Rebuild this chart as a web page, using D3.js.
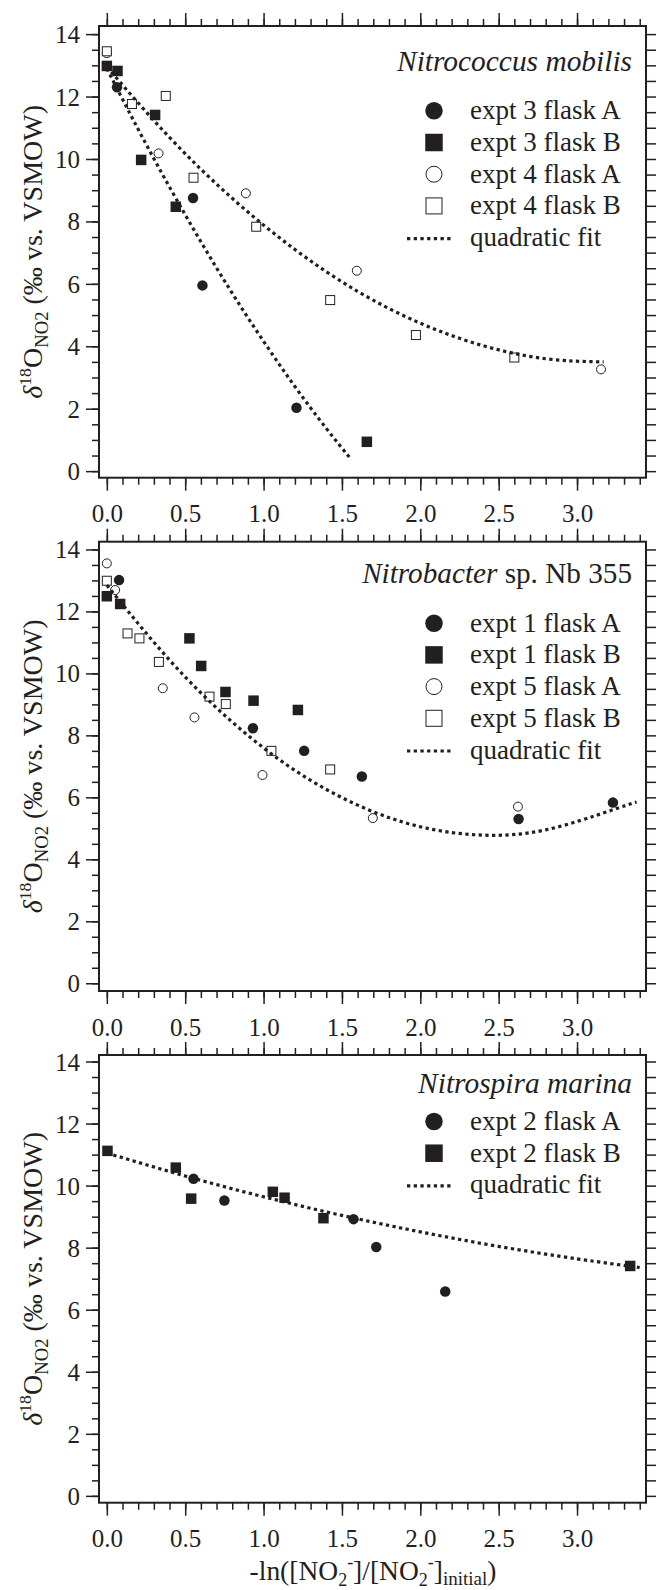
<!DOCTYPE html>
<html lang="en">
<head>
  <meta charset="UTF-8">
  <title>d18O of nitrite vs. extent of nitrite oxidation</title>
  <script src="https://d3js.org/d3.v7.min.js"></script>
  <style>
    body {
      margin: 0;
      background: #fff;
    }
    svg text {
      font-family: "Liberation Serif", "Times New Roman", Times, serif;
      fill: #231f20;
    }
    .frame {
      fill: none;
      stroke: #231f20;
      stroke-width: 2;
    }
    .axis path {
      display: none;
    }
    .axis line {
      stroke: #231f20;
      stroke-width: 1.5;
    }
    .fit {
      fill: none;
      stroke: #231f20;
      stroke-width: 3.2;
      stroke-dasharray: 3.3 3.4;
    }
  </style>
</head>
<body>

  <svg width="656" height="1590" font-family="Liberation Serif, Times New Roman, serif"></svg>

  <script>
    const ink = "#231f20";

    // x ticks shared by all three panels
    const xMajorTicks = [0, 0.5, 1.0, 1.5, 2.0, 2.5, 3.0];
    const xMinorTicks = d3.range(0, 35).map(i => i / 10);
    const yMajorTicks = [0, 2, 4, 6, 8, 10, 12, 14];
    const yMinorTicks = d3.range(0, 29).map(i => i / 2);

    // Nitrococcus mobilis: [-ln(f), d18O]
    const nmExpt3A = [[0.065, 12.30], [0.55, 8.75], [0.61, 5.95], [1.21, 2.03]];
    const nmExpt3B = [[0.0, 12.98], [0.068, 12.82], [0.219, 9.97], [0.308, 11.41], [0.44, 8.47], [1.659, 0.94]];
    const nmExpt4A = [[0.0, 13.39], [0.33, 10.18], [0.887, 8.90], [1.595, 6.42], [3.153, 3.26]];
    const nmExpt4B = [[0.0, 13.45], [0.16, 11.76], [0.376, 12.02], [0.553, 9.40], [0.953, 7.83], [1.425, 5.48], [1.972, 4.36], [2.60, 3.64]];
    const nmFit3 = [[0, 12.9], [0.2, 10.95], [0.4, 9.10], [0.6, 7.35], [0.8, 5.70], [1.0, 4.16], [1.2, 2.71], [1.4, 1.37], [1.56, 0.37]];
    const nmFit4 = [[0, 12.95], [0.4, 10.69], [0.8, 8.74], [1.2, 7.10], [1.6, 5.76], [2.0, 4.74], [2.4, 4.02], [2.8, 3.60], [3.17, 3.50]];

    // Nitrobacter sp. Nb 355
    const nbExpt1A = [[0.078, 13.01], [0.932, 8.23], [1.259, 7.50], [1.627, 6.67], [2.627, 5.30], [3.229, 5.83]];
    const nbExpt1B = [[0.0, 12.49], [0.085, 12.24], [0.527, 11.13], [0.602, 10.24], [0.757, 9.40], [0.936, 9.12], [1.219, 8.82]];
    const nbExpt5A = [[0.0, 13.55], [0.053, 12.69], [0.357, 9.52], [0.559, 8.58], [0.993, 6.72], [1.697, 5.33], [2.623, 5.70]];
    const nbExpt5B = [[0.0, 12.99], [0.132, 11.29], [0.208, 11.13], [0.332, 10.37], [0.655, 9.25], [0.759, 9.01], [1.05, 7.50], [1.425, 6.90]];
    const nbFit = [[0, 12.85], [0.4, 10.43], [0.8, 8.43], [1.2, 6.87], [1.6, 5.75], [2.0, 5.05], [2.4, 4.78], [2.8, 4.95], [3.2, 5.55], [3.38, 5.85]];

    // Nitrospira marina
    const nsExpt2A = [[0.553, 10.22], [0.75, 9.52], [1.574, 8.92], [1.719, 8.02], [2.159, 6.59]];
    const nsExpt2B = [[0.004, 11.12], [0.44, 10.58], [0.538, 9.58], [1.059, 9.80], [1.134, 9.61], [1.382, 8.95], [3.339, 7.41]];
    const nsFit = [[0, 11.05], [0.5, 10.31], [1.0, 9.64], [1.5, 9.04], [2.0, 8.51], [2.5, 8.04], [3.0, 7.64], [3.4, 7.36]];

    const panels = [
      {
        top: 26, bottom: 477.7, yDomain: [-0.21, 14.26],
        title: [["Nitrococcus mobilis", true]], titleW: 235,
        titleDy: 44.7, legendDy: 93.3,
        series: [
          { label: "expt 3 flask A", shape: "circle", filled: true, data: nmExpt3A },
          { label: "expt 3 flask B", shape: "square", filled: true, data: nmExpt3B },
          { label: "expt 4 flask A", shape: "circle", filled: false, data: nmExpt4A },
          { label: "expt 4 flask B", shape: "square", filled: false, data: nmExpt4B }
        ],
        fits: [nmFit3, nmFit4]
      },
      {
        top: 541.7, bottom: 991, yDomain: [-0.25, 14.25],
        title: [["Nitrobacter", true], [" sp. Nb 355", false]], titleW: 270,
        titleDy: 41.6, legendDy: 90,
        series: [
          { label: "expt 1 flask A", shape: "circle", filled: true, data: nbExpt1A },
          { label: "expt 1 flask B", shape: "square", filled: true, data: nbExpt1B },
          { label: "expt 5 flask A", shape: "circle", filled: false, data: nbExpt5A },
          { label: "expt 5 flask B", shape: "square", filled: false, data: nbExpt5B }
        ],
        fits: [nbFit]
      },
      {
        top: 1055, bottom: 1502.7, yDomain: [-0.22, 14.21],
        title: [["Nitrospira marina", true]], titleW: 214,
        titleDy: 38.3, legendDy: 75,
        series: [
          { label: "expt 2 flask A", shape: "circle", filled: true, data: nsExpt2A },
          { label: "expt 2 flask B", shape: "square", filled: true, data: nsExpt2B }
        ],
        fits: [nsFit]
      }
    ];

    const svg = d3.select("svg");
    const x = d3.scaleLinear().domain([-0.05, 3.44]).range([99, 646]);
    const left = 99, right = 646;

    // draws one marker centred on (cx, cy)
    function marker(g, shape, filled, cx, cy, size) {
      const fill = filled ? ink : "#fff";
      if (shape === "circle") {
        g.append("circle")
          .attr("cx", cx).attr("cy", cy)
          .attr("r", filled ? size / 2 : size / 2 - 0.5)
          .attr("fill", fill)
          .attr("stroke", ink)
          .attr("stroke-width", filled ? 0 : 1);
      } else {
        const s = filled ? size : size - 1;
        g.append("rect")
          .attr("x", cx - s / 2).attr("y", cy - s / 2)
          .attr("width", s).attr("height", s)
          .attr("fill", fill)
          .attr("stroke", ink)
          .attr("stroke-width", filled ? 0 : 1);
      }
    }

    // scale a text (drawn around its own origin) so it is `w` px long
    function fitWidth(holder, text, w) {
      const len = text.node().getComputedTextLength();
      if (len > 0) text.attr("transform", `scale(${w / len})`);
    }

    panels.forEach(p => {
      const y = d3.scaleLinear().domain(p.yDomain).range([p.bottom, p.top]);
      const g = svg.append("g");

      // axes: bottom, top, left, right
      g.append("g").attr("class", "axis")
        .attr("transform", `translate(0,${p.bottom})`)
        .call(d3.axisBottom(x).tickValues(xMinorTicks).tickSize(7).tickFormat(""));
      const bottomMajor = g.append("g").attr("class", "axis")
        .attr("transform", `translate(0,${p.bottom})`)
        .call(d3.axisBottom(x).tickValues(xMajorTicks).tickSize(13).tickFormat(d3.format(".1f")));
      bottomMajor.selectAll("text")
        .attr("y", 44.5).attr("dy", null)
        .style("font-size", "25px");

      g.append("g").attr("class", "axis")
        .attr("transform", `translate(0,${p.top})`)
        .call(d3.axisTop(x).tickValues(xMinorTicks).tickSize(7).tickFormat(""));
      g.append("g").attr("class", "axis")
        .attr("transform", `translate(0,${p.top})`)
        .call(d3.axisTop(x).tickValues(xMajorTicks).tickSize(13).tickFormat(""));

      g.append("g").attr("class", "axis")
        .attr("transform", `translate(${left},0)`)
        .call(d3.axisLeft(y).tickValues(yMinorTicks).tickSize(7).tickFormat(""));
      const leftMajor = g.append("g").attr("class", "axis")
        .attr("transform", `translate(${left},0)`)
        .call(d3.axisLeft(y).tickValues(yMajorTicks).tickSize(13).tickFormat(d3.format("d")));
      leftMajor.selectAll("text")
        .attr("x", -19).attr("dy", "0.34em")
        .style("font-size", "25px");

      g.append("g").attr("class", "axis")
        .attr("transform", `translate(${right},0)`)
        .call(d3.axisRight(y).tickValues(yMinorTicks).tickSize(12).tickFormat(""));

      g.append("rect").attr("class", "frame")
        .attr("x", left).attr("y", p.top)
        .attr("width", right - left).attr("height", p.bottom - p.top);

      // data markers
      p.series.forEach(s => {
        s.data.forEach(d => marker(g, s.shape, s.filled, x(d[0]), y(d[1]), s.filled ? 10.5 : 10));
      });

      // quadratic fits on top
      const line = d3.line().x(d => x(d[0])).y(d => y(d[1])).curve(d3.curveNatural);
      p.fits.forEach(f => g.append("path").attr("class", "fit").attr("d", line(f)));

      // species name
      const th = g.append("g").attr("transform", `translate(632,${p.top + p.titleDy})`);
      const t = th.append("text")
        .attr("text-anchor", "end")
        .style("font-size", "26px");
      p.title.forEach(([txt, it]) => t.append("tspan").style("font-style", it ? "italic" : "normal").text(txt));
      fitWidth(th, t, p.titleW);

      // legend
      const rowH = 31.7;
      const rows = p.series.map(s => ({ label: s.label, s }))
        .concat([{ label: "quadratic fit", s: null }]);
      rows.forEach((r, i) => {
        const by = p.top + p.legendDy + i * rowH;
        if (r.s) {
          marker(g, r.s.shape, r.s.filled, 434, by - 8.5, r.s.filled ? 17.5 : 17);
        } else {
          g.append("line").attr("class", "fit")
            .attr("x1", 407).attr("x2", 453)
            .attr("y1", by - 7.5).attr("y2", by - 7.5);
        }
        g.append("text")
          .attr("x", 470).attr("y", by)
          .style("font-size", "27px")
          .text(r.label);
      });

      // y axis title
      const cy = (p.top + p.bottom) / 2;
      const yh = g.append("g").attr("transform", `translate(42,${cy}) rotate(-90)`);
      const yt = yh.append("text")
        .attr("text-anchor", "middle")
        .style("font-size", "27px");
      yt.append("tspan").style("font-style", "italic").text("δ");
      yt.append("tspan").attr("dy", -11).style("font-size", "17px").text("18");
      yt.append("tspan").attr("dy", 11).text("O");
      yt.append("tspan").attr("dy", 6).style("font-size", "18px").text("NO2");
      yt.append("tspan").attr("dy", -6).text(" (‰ vs. VSMOW)");
      fitWidth(yh, yt, 294);
    });

    // x axis title
    const xh = svg.append("g").attr("transform", "translate(373,1580)");
    const xt = xh.append("text")
      .attr("text-anchor", "middle")
      .style("font-size", "26px");
    xt.append("tspan").text("-ln([NO");
    xt.append("tspan").attr("dy", 6).style("font-size", "17px").text("2");
    xt.append("tspan").attr("dy", -17).style("font-size", "17px").text("-");
    xt.append("tspan").attr("dy", 11).text("]/[NO");
    xt.append("tspan").attr("dy", 6).style("font-size", "17px").text("2");
    xt.append("tspan").attr("dy", -17).style("font-size", "17px").text("-");
    xt.append("tspan").attr("dy", 11).text("]");
    xt.append("tspan").attr("dy", 5).style("font-size", "18px").text("initial");
    xt.append("tspan").attr("dy", -5).text(")");
    fitWidth(xh, xt, 247);
  </script>

</body>
</html>
